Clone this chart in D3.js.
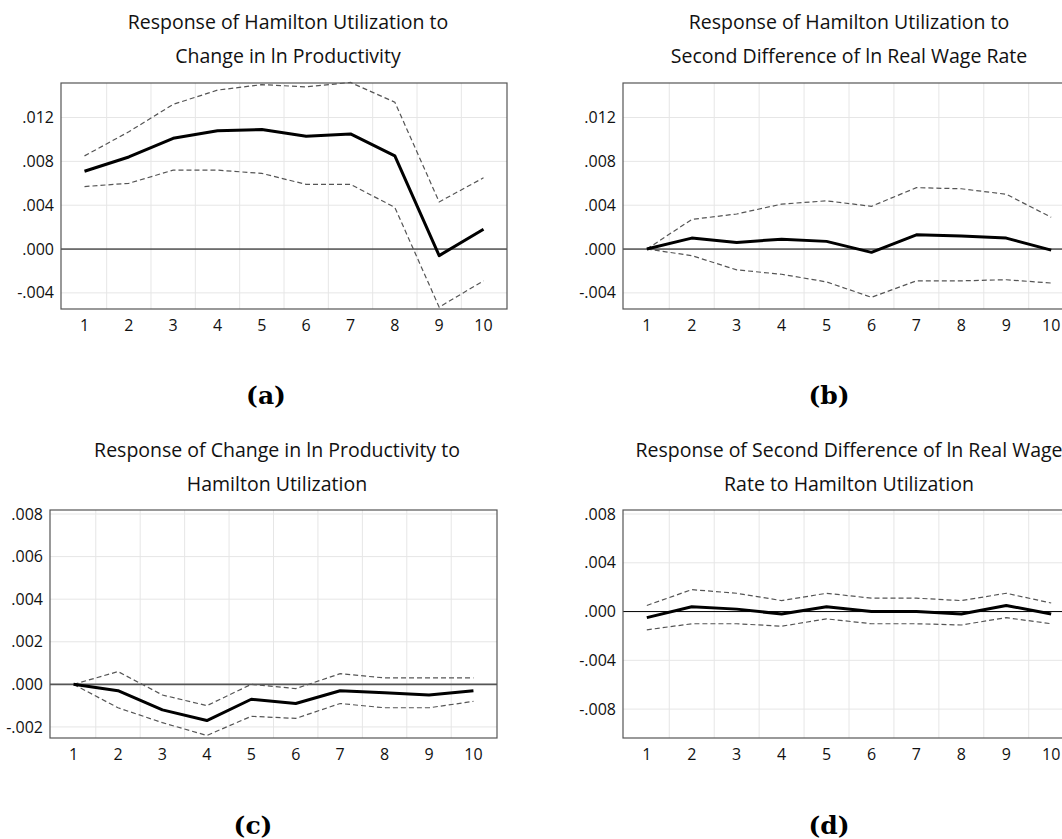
<!DOCTYPE html>
<html>
<head>
<meta charset="utf-8">
<script src="https://cdn.jsdelivr.net/npm/d3@7"></script>
<style>
  body { margin: 0; background: #fff; }
  svg text { font-family: "Open Sans", "Noto Sans", sans-serif; }
</style>
</head>
<body>
<svg id="chart" width="1062" height="839"></svg>
<script>
var periods = [1, 2, 3, 4, 5, 6, 7, 8, 9, 10];

// (a) Hamilton Utilization to Change in ln Productivity
var meanA  = [.0071, .0084, .0101, .0108, .0109, .0103, .0105, .0085, -.0006, .0018];
var upperA = [.0085, .0107, .0132, .0145, .0150, .0148, .0152, .0134, .0043, .0065];
var lowerA = [.0057, .0060, .0072, .0072, .0069, .0059, .0059, .0038, -.0053, -.0029];

// (b) Hamilton Utilization to Second Difference of ln Real Wage Rate
var meanB  = [0, .0010, .0006, .0009, .0007, -.0003, .0013, .0012, .0010, -.0001];
var upperB = [0, .0027, .0032, .0041, .0044, .0039, .0056, .0055, .0050, .0029];
var lowerB = [0, -.0006, -.0019, -.0023, -.0030, -.0044, -.0029, -.0029, -.0028, -.0031];

// (c) Change in ln Productivity to Hamilton Utilization
var meanC  = [0, -.0003, -.0012, -.0017, -.0007, -.0009, -.0003, -.0004, -.0005, -.0003];
var upperC = [0, .0006, -.0005, -.0010, .0000, -.0002, .0005, .0003, .0003, .0003];
var lowerC = [0, -.0011, -.0018, -.0024, -.0015, -.0016, -.0009, -.0011, -.0011, -.0008];

// (d) Second Difference of ln Real Wage Rate to Hamilton Utilization
var meanD  = [-.0005, .0004, .0002, -.0002, .0004, 0, 0, -.0002, .0005, -.0002];
var upperD = [.0005, .0018, .0015, .0009, .0015, .0011, .0011, .0009, .0015, .0007];
var lowerD = [-.0015, -.0010, -.0010, -.0012, -.0006, -.0010, -.0010, -.0011, -.0005, -.0010];

var ticksAB = [-.004, .000, .004, .008, .012];
var ticksC = [-.002, .000, .002, .004, .006, .008];
var ticksD = [-.008, -.004, .000, .004, .008];

var svg = d3.select("#chart");

var fmt = function(v) {
  var s = d3.format(".3f")(Math.abs(v)).replace(/^0/, "");
  return (v < 0 ? "-" : "") + s;
};

function panel(opt) {
  var x = d3.scaleLinear().domain([0.47, 10.53]).range([opt.left, opt.right]);
  var y = d3.scaleLinear().domain(opt.ydom).range([opt.bottom, opt.top]);
  var g = svg.append("g");

  // grid
  g.selectAll(".vg").data(periods.slice(0, 9)).enter().append("line")
    .attr("x1", function(d) { return x(d + 0.5); }).attr("x2", function(d) { return x(d + 0.5); })
    .attr("y1", opt.top).attr("y2", opt.bottom)
    .attr("stroke", "#e6e6e6").attr("stroke-width", 1);
  g.selectAll(".hg").data(opt.ticks).enter().append("line")
    .attr("x1", opt.left).attr("x2", opt.right)
    .attr("y1", function(d) { return y(d); }).attr("y2", function(d) { return y(d); })
    .attr("stroke", "#e6e6e6").attr("stroke-width", 1);

  // zero line
  g.append("line").attr("x1", opt.left).attr("x2", opt.right)
    .attr("y1", y(0)).attr("y2", y(0))
    .attr("stroke", opt.zeroColor || "#000").attr("stroke-width", opt.zeroWidth || 1);

  // frame
  g.append("rect").attr("x", opt.left).attr("y", opt.top)
    .attr("width", opt.right - opt.left).attr("height", opt.bottom - opt.top)
    .attr("fill", "none").attr("stroke", "#555").attr("stroke-width", 1.2);

  var line = d3.line().x(function(d, i) { return x(periods[i]); }).y(function(d) { return y(d); });
  [opt.upper, opt.lower].forEach(function(s) {
    g.append("path").attr("d", line(s)).attr("fill", "none")
      .attr("stroke", "#555").attr("stroke-width", 1.2).attr("stroke-dasharray", "5,3");
  });
  g.append("path").attr("d", line(opt.mean)).attr("fill", "none")
    .attr("stroke", "#000").attr("stroke-width", 3).attr("stroke-linejoin", "round");

  // axis labels
  g.selectAll(".yl").data(opt.ticks).enter().append("text")
    .attr("x", opt.left - 7).attr("y", function(d) { return y(d); })
    .attr("dy", "0.35em").attr("text-anchor", "end")
    .attr("font-size", 16).attr("fill", "#111").text(fmt);
  g.selectAll(".xl").data(periods).enter().append("text")
    .attr("x", function(d) { return x(d); }).attr("y", opt.bottom + 22)
    .attr("text-anchor", "middle").attr("font-size", 16).attr("fill", "#111").text(String);

  // title + caption
  opt.title.forEach(function(t, i) {
    g.append("text").attr("x", opt.tx).attr("y", opt.ty + i * 34)
      .attr("text-anchor", "middle").attr("font-size", 19.5).attr("fill", "#111").text(t);
  });
  g.append("text").attr("x", opt.cx).attr("y", opt.cy)
    .attr("text-anchor", "middle").style("font-family", "'DejaVu Serif', serif")
    .attr("font-weight", "bold").attr("font-size", 25).attr("fill", "#000").text(opt.caption);
}

panel({ left: 61, right: 507, top: 83, bottom: 309, ydom: [-.00547, .01515], ticks: ticksAB,
  mean: meanA, upper: upperA, lower: lowerA, tx: 288, ty: 29,
  title: ["Response of Hamilton Utilization to", "Change in ln Productivity"], cx: 266, cy: 404, caption: "(a)" });
panel({ left: 623, right: 1075, top: 83, bottom: 309, ydom: [-.00547, .01515], ticks: ticksAB,
  mean: meanB, upper: upperB, lower: lowerB, tx: 849, ty: 29,
  title: ["Response of Hamilton Utilization to", "Second Difference of ln Real Wage Rate"], cx: 829, cy: 404, caption: "(b)" });
panel({ left: 50, right: 497, top: 510, bottom: 738, ydom: [-.00252, .00819], ticks: ticksC,
  mean: meanC, upper: upperC, lower: lowerC, tx: 277, ty: 457, zeroColor: "#555", zeroWidth: 1.8,
  title: ["Response of Change in ln Productivity to", "Hamilton Utilization"], cx: 253, cy: 834, caption: "(c)" });
panel({ left: 623, right: 1075, top: 510, bottom: 738, ydom: [-.01037, .00833], ticks: ticksD,
  mean: meanD, upper: upperD, lower: lowerD, tx: 849, ty: 457,
  title: ["Response of Second Difference of ln Real Wage", "Rate to Hamilton Utilization"], cx: 829, cy: 834, caption: "(d)" });
</script>
</body>
</html>
